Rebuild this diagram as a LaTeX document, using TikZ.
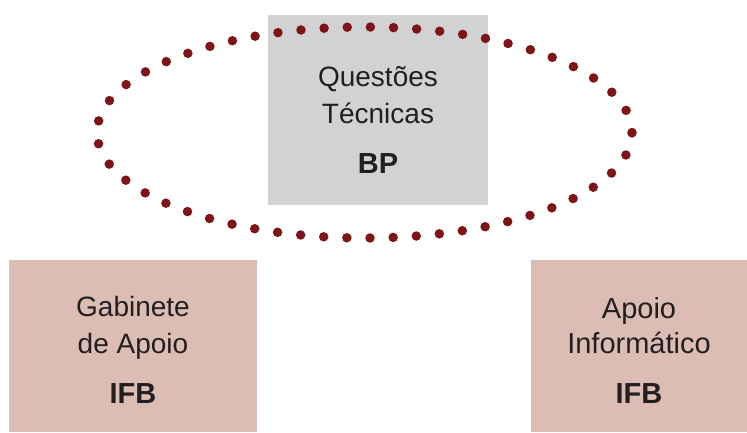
\documentclass[tikz,border=0pt]{standalone}
\usepackage{fontspec}
\setmainfont{Liberation Sans}
\definecolor{grayfill}{HTML}{D1D2D4}
\definecolor{pinkfill}{HTML}{DBBDB3}
\definecolor{txt}{HTML}{231F20}
\definecolor{dotred}{HTML}{7F1416}
\begin{document}
\begin{tikzpicture}[x=1pt,y=1pt,
  box/.style={draw=none,rectangle,inner sep=0pt,outer sep=0pt},
  lbl/.style={anchor=base,inner sep=0pt,text=txt,font=\fontsize{28}{34}\selectfont},
  blbl/.style={anchor=base,inner sep=0pt,text=txt,font=\fontsize{29}{34}\selectfont\bfseries},
  rlbl/.style={anchor=base,inner sep=0pt,text=txt,font=\fontsize{29}{34}\selectfont},
  dotring/.style={draw=dotred,line width=9.5pt,line cap=round,dash pattern=on 0pt off 23.16pt}]
\useasboundingbox (0,0) rectangle (747,-432);
% boxes
\node[box,fill=grayfill,minimum width=220pt,minimum height=190pt] (bp) at (378,-110) {};
\node[box,fill=pinkfill,minimum width=248pt,minimum height=172pt] (gab) at (133,-346) {};
\node[box,fill=pinkfill,minimum width=216pt,minimum height=172pt] (inf) at (639,-346) {};
% texts
\node[lbl] (q1) at (378,-86.5) {Questões};
\node[lbl] (q2) at (378,-123.3) {Técnicas};
\node[blbl] (q3) at (378,-173.3) {BP};
\node[lbl] (g1) at (133,-316.7) {Gabinete};
\node[lbl] (g2) at (133,-353.3) {de Apoio};
\node[blbl] (g3) at (133,-403.3) {IFB};
\node[rlbl] (i1) at (639,-318) {Apoio};
\node[rlbl] (i2) at (639,-353.3) {Informático};
\node[blbl] (i3) at (639,-403.3) {IFB};
% dotted ellipse
\coordinate (ec) at (364.5,-132.5);
\draw[dotring] (ec) ellipse [x radius=267.5, y radius=105.5];
\end{tikzpicture}
\end{document}
